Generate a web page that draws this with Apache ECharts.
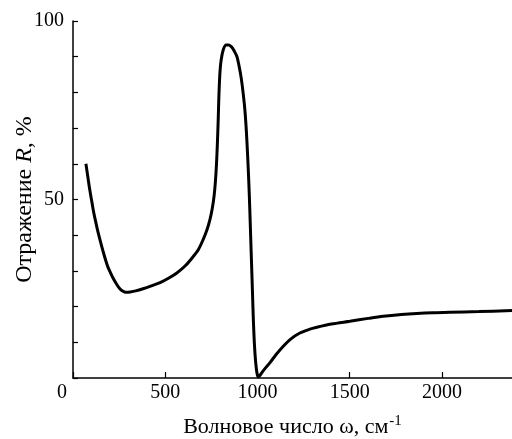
<!DOCTYPE html>
<html>
<head>
<meta charset="utf-8">
<script src="https://cdn.jsdelivr.net/npm/echarts@6/dist/echarts.min.js"></script>
<style>
html,body{margin:0;padding:0;background:#fff;}
#c{width:512px;height:439px;}
</style>
</head>
<body>
<div id="c"></div>
<script>
// wavenumber ω, cm^-1
const omega = [70, 80, 90, 100, 110, 122, 135, 150, 163, 177, 190, 205, 217, 230, 245, 260, 275, 290, 310, 340, 380, 425, 472, 520, 563, 610, 650, 680, 705, 725, 742, 755, 765, 772, 778, 783, 787, 791, 796, 803, 815, 830, 845, 860, 875, 889, 900, 912, 922, 932, 940, 947, 953, 958, 963, 968, 973, 978, 984, 991, 998, 1005, 1012, 1025, 1045, 1068, 1100, 1140, 1180, 1230, 1280, 1322, 1400, 1501, 1600, 1682, 1780, 1864, 1950, 2043, 2200, 2380];
// reflectance R, %
const reflect = [60, 56.5, 53, 50, 47, 44, 41, 38, 35.5, 33, 31, 29.3, 28, 26.8, 25.6, 24.7, 24.2, 24, 24.1, 24.4, 25, 25.8, 26.7, 28, 29.4, 31.5, 33.9, 36, 38.7, 41.3, 44.3, 47.5, 51, 55, 60, 66, 72, 79, 85, 89, 92, 93.3, 93.3, 92.7, 91.5, 90, 87.5, 84, 80, 75, 69, 62, 55, 48, 40, 32, 24, 16, 9, 4, 1.2, 0.3, 0.6, 1.6, 2.9, 4.3, 6.5, 8.9, 10.9, 12.6, 13.6, 14.2, 15.1, 15.9, 16.7, 17.3, 17.8, 18.1, 18.3, 18.4, 18.6, 18.9];
const yLabels = [50, 100];

const font = "'Liberation Serif', 'Times New Roman', serif";
const data = omega.map((w, i) => [w, reflect[i]]);

const chart = echarts.init(document.getElementById('c'));
chart.setOption({
  animation: false,
  backgroundColor: '#fff',
  grid: {left: 73, right: 0, top: 21, bottom: 61, containLabel: false, outerBoundsMode: 'none'},
  xAxis: {
    type: 'value', min: 0, max: 2380, interval: 500,
    name: 'Волновое число ω, см{sup|-1}',
    nameLocation: 'middle', nameGap: 36,
    nameTextStyle: {fontFamily: font, fontSize: 22, color: '#000',
      rich: {sup: {fontFamily: font, fontSize: 15, color: '#000', verticalAlign: 'top', padding: [0, 0, 12, 1]}}},
    axisLine: {show: true, lineStyle: {color: '#000', width: 1.5}},
    axisTick: {show: true, inside: true, length: 6, lineStyle: {color: '#000', width: 1.2}},
    axisLabel: {fontFamily: font, fontSize: 20, color: '#000', margin: 5, showMaxLabel: false,
      formatter: v => v === 0 ? '{z|0}' : String(v),
      rich: {z: {fontFamily: font, fontSize: 20, color: '#000', padding: [0, 22, 0, 0]}}},
    splitLine: {show: false}
  },
  yAxis: {
    type: 'value', min: 0, max: 100, interval: 10,
    name: 'Отражение {i|R}, %',
    nameLocation: 'middle', nameGap: 36, nameRotate: 90, nameMoveOverlap: false,
    nameTextStyle: {fontFamily: font, fontSize: 24, color: '#000',
      rich: {i: {fontFamily: font, fontSize: 24, fontStyle: 'italic', color: '#000'}}},
    axisLine: {show: true, lineStyle: {color: '#000', width: 1.5}},
    axisTick: {show: true, inside: true, length: 5, lineStyle: {color: '#000', width: 1.2}},
    axisLabel: {fontFamily: font, fontSize: 20, color: '#000', margin: 9,
      formatter: v => yLabels.indexOf(v) >= 0 ? String(v) : ''},
    splitLine: {show: false}
  },
  series: [{
    type: 'line', data: data, showSymbol: false, smooth: 0.3,
    lineStyle: {color: '#000', width: 3}
  }]
});
</script>
</body>
</html>
